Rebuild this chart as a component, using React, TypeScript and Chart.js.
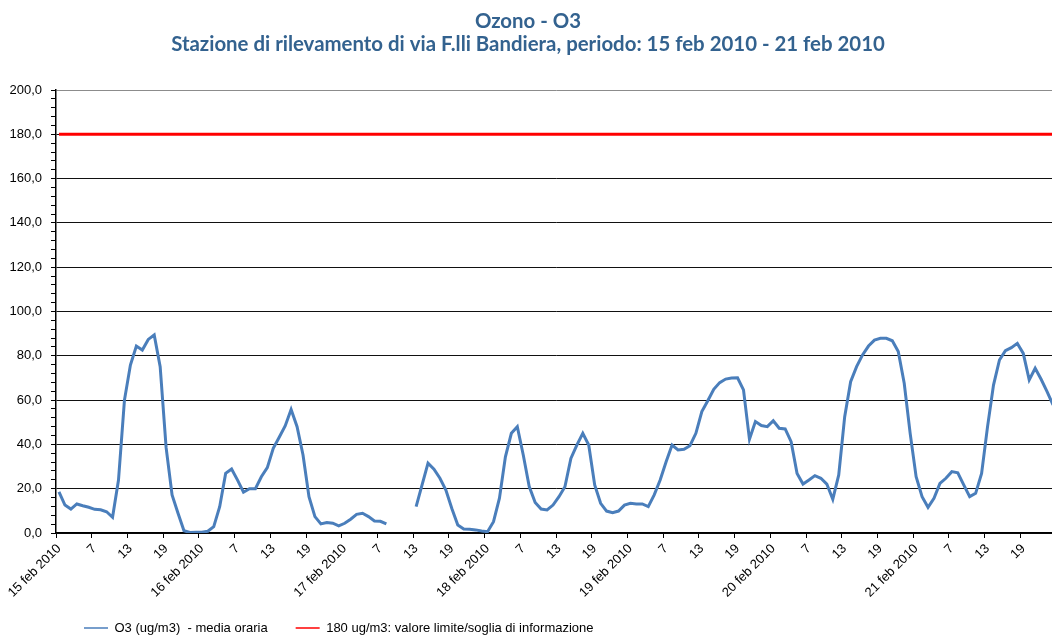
import React, { useEffect, useRef } from 'react';
import { Chart, registerables } from 'chart.js';

Chart.register(...registerables);

// ---- Data ----
const dayLabels = ['15 feb 2010', '16 feb 2010', '17 feb 2010', '18 feb 2010', '19 feb 2010', '20 feb 2010', '21 feb 2010'];
const yTickLabels = ['0,0', '20,0', '40,0', '60,0', '80,0', '100,0', '120,0', '140,0', '160,0', '180,0', '200,0'];

const o3Day15 = [18.6, 12.6, 10.8, 13.1, 12.3, 11.6, 10.7, 10.5, 9.6, 7.1, 23.9, 60.0, 75.8, 84.4, 82.6, 87.4, 89.4, 75.1, 38.5, 17.2, 8.9, 1.0, 0.2, 0.3];
const o3Day16 = [0.3, 0.8, 2.9, 11.9, 26.9, 28.9, 23.9, 18.4, 20.0, 20.0, 25.4, 29.5, 38.2, 43.2, 48.3, 55.8, 48.0, 35.2, 16.4, 7.4, 4.1, 4.7, 4.4, 3.2];
const o3Day17 = [4.4, 6.2, 8.4, 8.9, 7.4, 5.4, 5.3, 4.1, null, null, null, null, 11.9, 21.7, 31.5, 28.8, 24.7, 19.4, 11.1, 3.6, 1.8, 1.7, 1.4, 0.9];
const o3Day18 = [0.6, 5.1, 15.7, 34.4, 45.0, 48.0, 35.2, 21.0, 13.8, 10.8, 10.4, 12.6, 16.4, 20.9, 33.7, 39.7, 45.0, 39.7, 21.7, 13.4, 9.9, 9.2, 9.9, 12.6];
const o3Day19 = [13.4, 13.1, 13.1, 11.9, 17.2, 23.9, 32.2, 39.7, 37.5, 37.8, 39.4, 45.0, 54.8, 59.7, 64.9, 67.9, 69.5, 70.0, 70.1, 64.6, 42.3, 50.3, 48.5, 48.0];
const o3Day20 = [50.7, 47.3, 47.0, 41.2, 26.9, 22.1, 23.9, 25.9, 24.7, 22.1, 15.2, 26.2, 52.5, 68.3, 75.1, 80.4, 84.4, 87.1, 87.9, 87.9, 86.8, 81.9, 67.6, 45.0];
const o3Day21 = [25.4, 16.4, 11.6, 15.7, 22.4, 24.7, 27.7, 27.2, 21.7, 16.4, 17.9, 26.9, 48.0, 66.8, 78.1, 82.3, 83.7, 85.6, 81.1, 69.1, 74.4, 69.4, 63.8, 57.8];

const thresholdValue = 180;

const o3Series = 'O3 (ug/m3)  - media oraria';
const thresholdSeries = '180 ug/m3: valore limite/soglia di informazione';

// ---- Derived tables ----
const categories: string[] = [];
dayLabels.forEach((d) => {
  for (let h = 1; h <= 24; h++) categories.push(h === 1 ? d : String(h));
});
const o3Values = [...o3Day15, ...o3Day16, ...o3Day17, ...o3Day18, ...o3Day19, ...o3Day20, ...o3Day21];
const thresholdValues = categories.map(() => thresholdValue);

const FONT = 'Liberation Sans, Arial, sans-serif';

// moves the bottom legend up into the free space below the rotated labels
const legendShift = {
  id: 'legendShift',
  afterLayout(chart: any) {
    const l = chart.legend;
    if (l) {
      l.top -= 16.5;
      l.bottom -= 16.5;
    }
  },
};

export default function App() {
  const ref = useRef<HTMLCanvasElement | null>(null);

  useEffect(() => {
    if (!ref.current) return;
    const chart = new Chart(ref.current, {
      type: 'line',
      data: {
        labels: categories,
        datasets: [
          {
            label: o3Series,
            data: o3Values,
            borderColor: '#4a7ebb',
            backgroundColor: '#4a7ebb',
            borderWidth: 3,
            pointRadius: 0,
            spanGaps: false,
            tension: 0,
          },
          {
            label: thresholdSeries,
            data: thresholdValues,
            borderColor: '#ff0000',
            backgroundColor: '#ff0000',
            borderWidth: 3,
            pointRadius: 0,
            tension: 0,
          },
        ],
      },
      plugins: [legendShift],
      options: {
        animation: false,
        responsive: false,
        devicePixelRatio: 1,
        layout: { padding: 0 },
        events: [],
        scales: {
          x: {
            type: 'category',
            offset: true,
            grid: {
              display: true,
              offset: true,
              drawOnChartArea: false,
              tickLength: 5,
              tickWidth: 1,
              tickColor: (ctx: any) => (ctx.index % 6 === 0 ? '#000' : 'rgba(0,0,0,0)'),
            },
            border: { display: true, color: '#000', width: 1.5 },
            ticks: {
              autoSkip: false,
              minRotation: 45,
              maxRotation: 45,
              padding: 3,
              color: '#000',
              font: { family: FONT, size: 13 },
              callback: (_v: any, index: number) => (index % 6 === 0 ? categories[index] : ''),
            },
            afterFit: (s: any) => {
              s.paddingLeft = 0;
              s.paddingRight = 0;
              s.height = 77;
            },
          },
          y: {
            min: 0,
            max: 200,
            grid: {
              lineWidth: 1,
              color: (ctx: any) => {
                const v = ctx.tick ? ctx.tick.value : -1;
                if (v % 20 !== 0) return 'rgba(0,0,0,0)';
                return v === 200 ? '#8c8c8c' : '#111';
              },
              tickColor: '#000',
              tickLength: 5,
            },
            border: { display: true, color: '#000', width: 1.5 },
            ticks: {
              stepSize: 4,
              autoSkip: false,
              padding: 9,
              color: '#000',
              font: { family: FONT, size: 13 },
              callback: (v: any) => (Number(v) % 20 === 0 ? yTickLabels[Number(v) / 20] : ''),
            },
            afterFit: (s: any) => {
              s.width = 56;
            },
          },
        },
        plugins: {
          title: {
            display: true,
            text: ['Ozono - O3', 'Stazione di rilevamento di via F.lli Bandiera, periodo: 15 feb 2010 - 21 feb 2010'],
            color: '#33628f',
            font: { family: 'Lato, sans-serif', size: 20.4, weight: 'bold', lineHeight: 1.13 },
            padding: { top: 10, bottom: 33.9 },
          },
          legend: {
            display: true,
            position: 'bottom',
            align: 'start',
            fullSize: false,
            labels: {
              usePointStyle: true,
              pointStyleWidth: 24,
              padding: 28,
              color: '#000',
              font: { family: FONT, size: 13 },
              generateLabels: (c: any) =>
                Chart.defaults.plugins.legend.labels
                  .generateLabels(c)
                  .map((it: any) => ({ ...it, pointStyle: 'line', lineWidth: 1.5 })),
            },
          },
          tooltip: { enabled: false },
        },
      },
    });
    return () => chart.destroy();
  }, []);

  return (
    <div
      style={{
        position: 'fixed',
        left: 0,
        top: 0,
        width: 1052,
        height: 637,
        overflow: 'hidden',
        background: '#fff',
      }}
    >
      <canvas ref={ref} width={1056} height={661} style={{ display: 'block' }} />
    </div>
  );
}
